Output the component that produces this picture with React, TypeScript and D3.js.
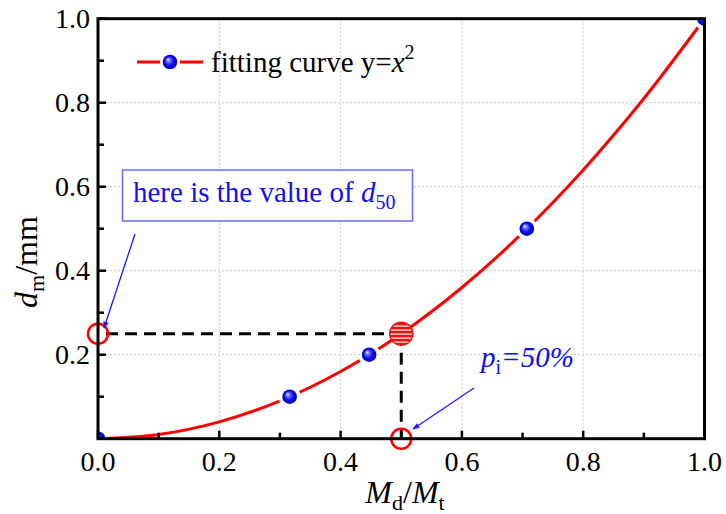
import React from 'react';
import * as d3 from "d3";

// measured points (M_d/M_t, d_m)
const pointX = [0, 0.316, 0.447, 0.707, 1.0];
const pointY = [0, 0.1, 0.2, 0.5, 1.0];

// fitting curve y = x^2
const curveX = [0, 0.1, 0.2, 0.3, 0.4, 0.5, 0.6, 0.7, 0.8, 0.9, 1.0];
const curveY = [0, 0.01, 0.04, 0.09, 0.16, 0.25, 0.36, 0.49, 0.64, 0.81, 1.0];

// d50 marker
const d50X = 0.5;
const d50Y = 0.25;

const majorTicks = [0, 0.2, 0.4, 0.6, 0.8, 1.0];
const minorTicks = [0.1, 0.3, 0.5, 0.7, 0.9];
const yLabelTicks = [0.2, 0.4, 0.6, 0.8, 1.0];

const FONT = "Times New Roman";

const width = 726;
const height = 514;
const left = 98, right = 704.5, top = 18.7, bottom = 438.7;

const App = () => {
    const x = d3.scaleLinear().domain([0, 1]).range([left, right]);
    const y = d3.scaleLinear().domain([0, 1]).range([bottom, top]);
    const fmt = d3.format(".1f");

    const line = d3.line<number>()
        .x(d => x(d))
        .y((d, i) => y(curveY[i]))
        .curve(d3.curveMonotoneX);

    const txt = (size: number, color = "black"): React.CSSProperties => ({
        fontFamily: FONT,
        fontSize: size + "px",
        fill: color,
    });

    return (
        <div style={{position: "absolute", left: 0, top: 0}}>
            <svg width={width} height={height} style={{display: "block", background: "white"}}>
                <defs>
                    <radialGradient id="sphere" cx="50%" cy="50%" r="50%" fx="35%" fy="32%">
                        <stop offset="0%" stopColor="#ffffff" />
                        <stop offset="22%" stopColor="#8080ff" />
                        <stop offset="60%" stopColor="#1010f0" />
                        <stop offset="100%" stopColor="#0000b0" />
                    </radialGradient>
                    <pattern id="hatch" patternUnits="userSpaceOnUse" width={8} height={4}>
                        <rect width={8} height={4} fill="#ee1111" />
                        <rect y={1.5} width={8} height={1.2} fill="white" />
                    </pattern>
                    <clipPath id="plotClip">
                        <rect x={left} y={top} width={right - left} height={bottom - top} />
                    </clipPath>
                    {/* mask cuts the curve around each marker */}
                    <mask id="gapMask" maskUnits="userSpaceOnUse" x={0} y={0} width={width} height={height}>
                        <rect width={width} height={height} fill="white" />
                        {pointX.map((px, i) => (
                            <circle key={i} cx={x(px)} cy={y(pointY[i])} r={11} fill="black" />
                        ))}
                    </mask>
                    <marker id="arrow" viewBox="0 0 10 10" refX={9} refY={5}
                            markerWidth={9} markerHeight={7} markerUnits="userSpaceOnUse" orient="auto">
                        <path d="M0,1 L10,5 L0,9 Z" fill="#1a1aff" />
                    </marker>
                </defs>

                {/* grid */}
                <g stroke="#c8c8c8" strokeWidth={1} strokeDasharray="2,2">
                    {majorTicks.slice(1, -1).map(t => (
                        <React.Fragment key={t}>
                            <line x1={x(t)} x2={x(t)} y1={top} y2={bottom} />
                            <line x1={left} x2={right} y1={y(t)} y2={y(t)} />
                        </React.Fragment>
                    ))}
                </g>

                {/* fitting curve */}
                <path d={line(curveX) || ""} fill="none" stroke="#ff0000" strokeWidth={3} mask="url(#gapMask)" />

                {/* dashed guides */}
                <g stroke="black" strokeWidth={3} strokeDasharray="12,7">
                    <line x1={x(0) + 8} x2={x(d50X)} y1={y(d50Y)} y2={y(d50Y)} />
                    <line x1={x(d50X)} x2={x(d50X)} y1={y(d50Y)} y2={y(0) - 2} />
                </g>

                {/* markers */}
                <g clipPath="url(#plotClip)">
                    {pointX.map((px, i) => (
                        <circle key={i} cx={x(px)} cy={y(pointY[i])} r={7.3} fill="url(#sphere)" />
                    ))}
                </g>

                <circle cx={x(d50X)} cy={y(d50Y)} r={11.5} fill="url(#hatch)" stroke="#ee1111" strokeWidth={1.5} />
                {[[0, d50Y], [d50X, 0]].map(([cx, cy], i) => (
                    <circle key={i} cx={x(cx)} cy={y(cy)} r={10} fill="none" stroke="#ff0000" strokeWidth={2.5} />
                ))}

                {/* ticks */}
                <g stroke="black" strokeWidth={2.5}>
                    {majorTicks.map(t => (
                        <React.Fragment key={t}>
                            <line x1={x(t)} x2={x(t)} y1={bottom} y2={bottom - 8} />
                            <line x1={left} x2={left + 8} y1={y(t)} y2={y(t)} />
                        </React.Fragment>
                    ))}
                    {minorTicks.map(t => (
                        <React.Fragment key={t}>
                            <line x1={x(t)} x2={x(t)} y1={bottom} y2={bottom - 6} />
                            <line x1={left} x2={left + 6} y1={y(t)} y2={y(t)} />
                        </React.Fragment>
                    ))}
                </g>
                {majorTicks.map(t => (
                    <text key={t} x={x(t)} y={bottom + 32} textAnchor="middle" style={txt(28)}>{fmt(t)}</text>
                ))}
                {yLabelTicks.map(t => (
                    <text key={t} x={left - 8} y={y(t) + 9} textAnchor="end" style={txt(28)}>{fmt(t)}</text>
                ))}

                {/* frame */}
                <rect x={left} y={top} width={right - left} height={bottom - top}
                      fill="none" stroke="black" strokeWidth={3} />

                {/* axis titles */}
                <text x={405} y={503} textAnchor="middle" style={txt(32)}>
                    <tspan fontStyle="italic">M</tspan>
                    <tspan dy={7} style={{fontSize: "22px"}}>d</tspan>
                    <tspan dy={-7}>/</tspan>
                    <tspan fontStyle="italic">M</tspan>
                    <tspan dy={7} style={{fontSize: "22px"}}>t</tspan>
                </text>
                <text transform="translate(37,262) rotate(-90)" textAnchor="middle" style={txt(32)}>
                    <tspan fontStyle="italic">d</tspan>
                    <tspan dy={7} style={{fontSize: "22px"}}>m</tspan>
                    <tspan dy={-7}>/mm</tspan>
                </text>

                {/* legend */}
                <line x1={137} x2={203} y1={62} y2={62} stroke="#ff0000" strokeWidth={3} />
                <circle cx={170} cy={62} r={10} fill="white" />
                <circle cx={170} cy={62} r={7.3} fill="url(#sphere)" />
                <text x={211} y={72} style={txt(29)}>
                    <tspan>fitting curve y=</tspan>
                    <tspan fontStyle="italic">x</tspan>
                    <tspan dy={-13} style={{fontSize: "20px"}}>2</tspan>
                </text>

                {/* annotations */}
                <rect x={122.5} y={170} width={290} height={51} fill="white" stroke="#6a6aff" strokeWidth={1.5} />
                <text x={133} y={202} style={txt(29, "#1010ee")}>
                    <tspan>here is the value of </tspan>
                    <tspan fontStyle="italic">d</tspan>
                    <tspan dy={7} style={{fontSize: "20px"}}>50</tspan>
                </text>
                <line x1={135} y1={234} x2={104} y2={328} stroke="#1a1aff" strokeWidth={1.3} markerEnd="url(#arrow)" />

                <text x={481} y={367} style={txt(29, "#1010ee")}>
                    <tspan fontStyle="italic">p</tspan>
                    <tspan dy={7} style={{fontSize: "20px"}}>i</tspan>
                    <tspan dy={-7} fontStyle="italic">=50%</tspan>
                </text>
                <line x1={474} y1={388} x2={413} y2={429} stroke="#1a1aff" strokeWidth={1.3} markerEnd="url(#arrow)" />
            </svg>
        </div>
    );
};

export default App;
